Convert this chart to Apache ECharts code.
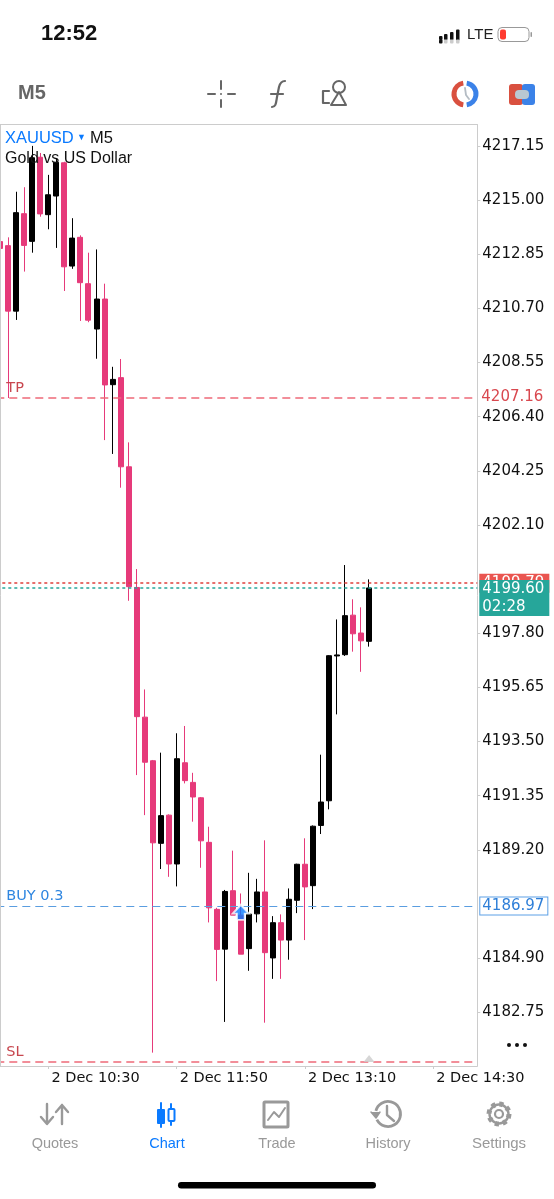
<!DOCTYPE html>
<html><head><meta charset="utf-8">
<style>html,body{margin:0;padding:0;background:#fff}#c{width:554px;height:1199px}</style>
<script src="https://cdn.jsdelivr.net/npm/echarts@6/dist/echarts.min.js"></script>
</head><body><div id="c"></div>
<script>
const opens=[4213.35,4213.19,4210.59,4214.46,4213.36,4216.70,4214.42,4215.16,4216.48,4212.38,4213.52,4211.68,4209.88,4211.07,4207.67,4207.95,4204.41,4199.62,4194.47,4192.74,4189.46,4190.58,4188.64,4192.66,4191.88,4191.27,4189.50,4186.84,4185.26,4187.58,4186.61,4185.28,4186.66,4187.53,4184.91,4186.31,4185.62,4187.20,4188.63,4187.78,4190.17,4191.15,4196.90,4196.95,4198.52,4197.81,4197.48];
const closes=[4213.08,4210.59,4214.50,4213.20,4216.68,4214.45,4215.21,4216.50,4212.35,4213.49,4211.72,4210.23,4211.07,4207.66,4207.88,4204.41,4199.65,4194.49,4192.68,4189.48,4190.56,4188.64,4192.82,4191.95,4191.30,4189.56,4186.90,4185.25,4187.55,4186.61,4185.06,4186.65,4187.53,4185.12,4186.31,4185.62,4187.24,4188.63,4187.73,4190.14,4191.10,4196.91,4196.94,4198.50,4197.78,4197.50,4199.60];
const lows=[4213.00,4207.14,4210.24,4212.16,4212.91,4214.34,4213.84,4213.10,4211.39,4212.27,4210.20,4210.15,4208.70,4205.47,4204.92,4203.58,4199.09,4192.17,4190.58,4181.15,4188.44,4188.13,4187.75,4191.84,4190.32,4188.49,4186.32,4183.99,4182.37,4186.61,4185.06,4184.40,4186.32,4182.34,4184.08,4184.08,4184.84,4186.69,4185.62,4186.85,4189.83,4190.81,4194.58,4196.90,4197.07,4196.27,4197.27];
const highs=[4213.49,4213.52,4215.33,4215.51,4217.15,4216.87,4216.00,4216.67,4216.52,4214.28,4213.60,4212.91,4213.04,4211.68,4208.38,4208.69,4205.38,4200.35,4195.57,4192.77,4193.06,4190.61,4193.83,4194.12,4192.26,4191.30,4190.12,4186.90,4187.61,4189.17,4187.47,4188.29,4188.05,4189.58,4186.57,4186.64,4187.67,4188.65,4189.66,4190.17,4192.98,4196.93,4198.35,4200.51,4199.15,4198.83,4199.94];
const yTicks=[4217.15,4215.00,4212.85,4210.70,4208.55,4206.40,4204.25,4202.10,4197.80,4195.65,4193.50,4191.35,4189.20,4184.90,4182.75];
const slotCount=60, firstSlotMinutes=600;
const categories=[];
for(let i=0;i<slotCount;i++){const m=firstSlotMinutes+i*5;categories.push('2 Dec '+String(Math.floor(m/60)).padStart(2,'0')+':'+String(m%60).padStart(2,'0'));}
const tpLevel=4207.16, buyLevel=4186.97, slLevel=4180.80, askLevel=4199.79, bidLevel=4199.60, bidTagCentre=4199.20;
const tradeMark=[[30,4186.72]], periodMark=[[46,4180.92]];
const PINK='#e63a7a', FS='DejaVu Sans', HF='"Liberation Sans",Arimo,sans-serif';

const line=(x1,y1,x2,y2,stroke,w,extra)=>({type:'line',silent:true,z:100,shape:{x1,y1,x2,y2},style:Object.assign({stroke,lineWidth:w||1,fill:null,lineCap:'round'},extra||{})});
const rect=(x,y,width,height,r,fill,stroke,w)=>({type:'rect',silent:true,z:100,shape:{x,y,width,height,r},style:{fill:fill||null,stroke:stroke||null,lineWidth:w||1}});
const circ=(cx,cy,r,fill,stroke,w,extra)=>({type:'circle',silent:true,z:100,shape:{cx,cy,r},style:Object.assign({fill:fill||null,stroke:stroke||null,lineWidth:w||1},extra||{})});
const arc=(cx,cy,r,a,b,stroke,w)=>({type:'arc',silent:true,z:100,shape:{cx,cy,r,startAngle:a,endAngle:b,clockwise:true},style:{stroke,lineWidth:w,fill:null}});
let pathCount=0;
const path=(d,stroke,w,fill)=>{const name='iconPath'+(pathCount++);echarts.graphic.registerShape(name,echarts.graphic.extendPath(d,{}));return {type:name,silent:true,z:100,style:{stroke:stroke||null,lineWidth:w||1,fill:fill||null,lineJoin:'round',lineCap:'round'}};};
const text=(t,x,y,size,color,weight,align,family)=>({type:'text',silent:true,z:110,x,y,style:{text:t,fontSize:size,fill:color,fontWeight:weight||'normal',fontFamily:family||HF,align:align||'left',verticalAlign:'middle'}});

const GR='#666', TG='#999', BL='#0a7aff';
const graphics=[
 line(0,124.5,477.5,124.5,'#ccc',1), line(0.5,124.5,0.5,1066,'#ccc',1),
 text('12:52',41,33.5,22,'#111','bold'),
 ...[[439,36,4],[444,34,6],[450,32,8],[456,29.5,11]].map(a=>rect(a[0],a[1],3.5,a[2]+0,1,'#111')),
 ...[439,444,450,456].map(x=>rect(x,39.5,3.5,4,1,x==439?'#111':'#ccc')),
 text('LTE',467,34.5,15,'#222'),
 rect(498,27.5,31,14,4,null,'#999',1), rect(500,29.5,6,10,2,'#ff3b30'), rect(530.5,32,1.5,5,1,'#999'),
 text('M5',18,93.5,20,GR,'bold'),
 line(208,94,215,94,GR,2), line(228,94,235,94,GR,2), line(221,81,221,89,GR,2), line(221,100,221,107,GR,2), circ(221,94,1,GR),
 path('M272 107 C276 107 276 103 277 97 L279 87 C280 83 282 81 285 81 M271 94 L283 94',GR,2.2),
 circ(339,87,6,null,GR,2), path('M339 92 L346 105 L331 105 Z',GR,2), path('M329 91 L323 91 L323 103 L329 103',GR,2.2),
 arc(465,94,11,Math.PI*0.55,Math.PI*1.45,'#d9503f',5), arc(465,94,11,Math.PI*1.55,Math.PI*0.45,'#3b82e8',5),
 path('M465 88 L466 95 L469 99','#b4bcc4',1.8),
 rect(509,84,14,21,3,'#d9503f'), rect(522,84,13,21,3,'#3b82e8'), rect(515,90,14,9,4,'#b9c8d2'),
 circ(509,1045,2,'#111'), circ(517,1045,2,'#111'), circ(525,1045,2,'#111'),
 path('M47 1104 L47 1123 M41 1117 L47 1124 L53 1117',TG,2.4), path('M62 1124 L62 1105 M56 1112 L62 1105 L68 1112',TG,2.4),
 text('Quotes',55,1143.5,14.5,TG,'normal','center'),
 line(161,1103,161,1127,BL,2), rect(157,1109,8,15,1,BL), line(171,1104,171,1125,BL,2), rect(168.5,1109,6,12,1,'#fff',BL,2),
 text('Chart',167,1143.5,14.5,BL,'normal','center'),
 rect(264,1102,24,25,1,null,TG,3), path('M268 1120 L274 1112 L279 1117 L285 1108',TG,2),
 text('Trade',277,1143.5,14.5,TG,'normal','center'),
 arc(388,1114,12.5,Math.PI*1.0+0.25,Math.PI*0.85,TG,2.8), path('M371 1112 L376 1118 L380 1112',TG,1.5,TG), path('M387 1106 L387 1115 L394 1121',TG,2.4),
 text('History',388,1143.5,14.5,TG,'normal','center'),
 circ(499,1114,10,null,TG,5,{lineDash:[4,3.85]}), circ(499,1114,9.5,null,TG,2.4), circ(499,1114,4,null,TG,2.2),
 text('Settings',499,1143.5,15,TG,'normal','center'),
 rect(178,1182,198,6.5,3.2,'#000'),
 text('XAUUSD',5,138.5,16.5,BL), text('▼',77,138,9,BL), text('M5',90,138.5,16.5,'#111'),
 text('Gold vs US Dollar',5,158.5,16,'#111')
];

const lv=(value,color,dash,w,label)=>({yAxis:value,lineStyle:{color,type:dash,width:w||1},label});
const leftLabel=(t,color)=>({show:true,position:'insideStartTop',formatter:t,color,fontFamily:FS,fontSize:14.5,padding:[0,0,0,8],distance:2});
const rightLabel=(t,color)=>({show:true,position:'end',formatter:t,color,fontFamily:FS,fontSize:15,distance:4});
const dash=[8,5], dot=[3,3], RL='#ee6a78';

const chart=echarts.init(document.getElementById('c'),null,{renderer:'canvas'});
chart.setOption({
 animation:false,backgroundColor:'#fff',
 grid:{left:-3.7,width:481,top:125,height:941,outerBoundsMode:'none'},
 xAxis:{type:'category',data:categories,boundaryGap:true,
  axisLine:{lineStyle:{color:'#ccc'}},
  axisTick:{show:true,alignWithLabel:true,length:3,lineStyle:{color:'#ccc'},interval:(i)=>i%16===6},
  axisLabel:{interval:(i)=>i%16===6,align:'left',padding:[0,0,0,3],margin:5,color:'#111',fontFamily:FS,fontSize:14.5,hideOverlap:false},
  splitLine:{show:false}},
 yAxis:{type:'value',position:'right',min:4180.62,max:4217.98,scale:true,
  axisLine:{show:true,lineStyle:{color:'#ccc'}},
  axisTick:{show:true,length:3,lineStyle:{color:'#ccc'},customValues:yTicks},
  axisLabel:{customValues:yTicks,formatter:v=>v.toFixed(2),color:'#111',fontFamily:FS,fontSize:15,margin:5,padding:[2,0,0,0]},
  splitLine:{show:false}},
 series:[
  {type:'candlestick',name:'XAUUSD',barWidth:5.5,
   data:opens.map((o,i)=>[o,closes[i],lows[i],highs[i]]),
   itemStyle:{color:'#000',color0:PINK,borderColor:'#000',borderColor0:PINK,borderWidth:1},
   markLine:{silent:true,symbol:'none',animation:false,
    data:[
     lv(tpLevel,RL,dash,1.5,leftLabel('TP','#c8474f')),
     lv(tpLevel,'rgba(0,0,0,0)',dash,0.01,rightLabel(tpLevel.toFixed(2),'#d9484f')),
     lv(buyLevel,'#5a9de0',dash,1.2,leftLabel('BUY 0.3','#2f86e0')),
     lv(buyLevel,'rgba(0,0,0,0)',dash,0.01,Object.assign(rightLabel(buyLevel.toFixed(2),'#2f7fd8'),{backgroundColor:'#fff',borderColor:'#5da0e6',borderWidth:1,padding:[1,3,1,2],distance:3})),
     lv(slLevel,RL,dash,1.5,leftLabel('SL','#c8474f')),
     lv(askLevel,'#e0403c',dot,1.5,Object.assign(rightLabel(askLevel.toFixed(2),'#fff'),{backgroundColor:'#ea5550',padding:[2,5,2,3],distance:2})),
     lv(bidLevel,'#26a69a',dot,1.5,{show:false}),
     {yAxis:bidTagCentre,lineStyle:{color:'rgba(0,0,0,0)',width:0.01},label:{show:true,position:'end',distance:2,formatter:bidLevel.toFixed(2)+'\n02:28',color:'#fff',fontFamily:FS,fontSize:15,lineHeight:18,backgroundColor:'#26a69a',padding:[0,5,0,3]}}
    ]}},
  {type:'scatter',name:'trade',data:tradeMark,symbol:'path://M7 0 L14 7 L10.5 7 L10.5 12 L3.5 12 L3.5 7 L0 7 Z',symbolSize:[16,15],z:6,itemStyle:{color:BL,borderColor:'#fff',borderWidth:2}},
  {type:'scatter',name:'period',data:periodMark,symbol:'triangle',symbolSize:[11,7],z:6,itemStyle:{color:'#ccc'}}
 ],
 graphic:graphics
});
</script></body></html>
